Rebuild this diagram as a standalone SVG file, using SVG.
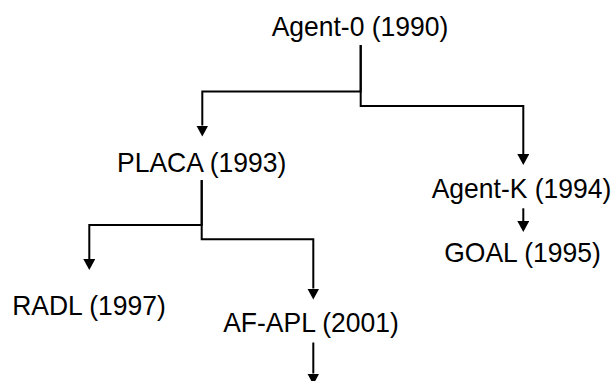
<svg xmlns="http://www.w3.org/2000/svg" width="615" height="381" viewBox="0 0 615 381">
  <style>
    .label { font-family: "Liberation Sans", Arial, sans-serif; font-size: 26.5px; fill: #000; text-anchor: middle; }
    .link { fill: none; stroke: #000; stroke-width: 2; marker-end: url(#arrow); }
  </style>
  <defs>
    <!-- filled arrowhead; base sits on the line end, tip points forward -->
    <marker id="arrow" viewBox="0 0 11 12" refX="0" refY="6" markerWidth="11" markerHeight="12" markerUnits="userSpaceOnUse" orient="auto">
      <path d="M0,0 L11,6 L0,12 Z" fill="#000"/>
    </marker>
  </defs>
  <rect width="615" height="381" fill="#fff"/>

  <g id="connectors">
    <!-- Agent-0 branches -->
    <path class="link" d="M360.7,45 V91.5 H202.3 V125.5"/>
    <path class="link" d="M360.7,45 V106 H523.3 V154"/>
    <!-- PLACA branches -->
    <path class="link" d="M201.7,180 V225 H89.3 V259"/>
    <path class="link" d="M201.7,180 V239.3 H313.3 V288.5"/>
    <!-- Agent-K to GOAL -->
    <path class="link" d="M523.3,208.3 V221"/>
    <!-- AF-APL onward -->
    <path class="link" d="M313.3,342.5 V373.5"/>
  </g>

  <!-- labels are stretched slightly taller than wide -->
  <g id="agent-0" transform="translate(360,35.7) scale(1,1.0566)"><text class="label">Agent-0 (1990)</text></g>
  <g id="placa" transform="translate(201.7,171.7) scale(1,1.0566)"><text class="label">PLACA (1993)</text></g>
  <g id="agent-k" transform="translate(521.5,197.5) scale(1,1.0566)"><text class="label">Agent-K (1994)</text></g>
  <g id="goal" transform="translate(522.5,261.7) scale(1,1.0566)"><text class="label">GOAL (1995)</text></g>
  <g id="radl" transform="translate(89,315) scale(1,1.0566)"><text class="label">RADL (1997)</text></g>
  <g id="af-apl" transform="translate(311,331.7) scale(1,1.0566)"><text class="label">AF-APL (2001)</text></g>
</svg>
